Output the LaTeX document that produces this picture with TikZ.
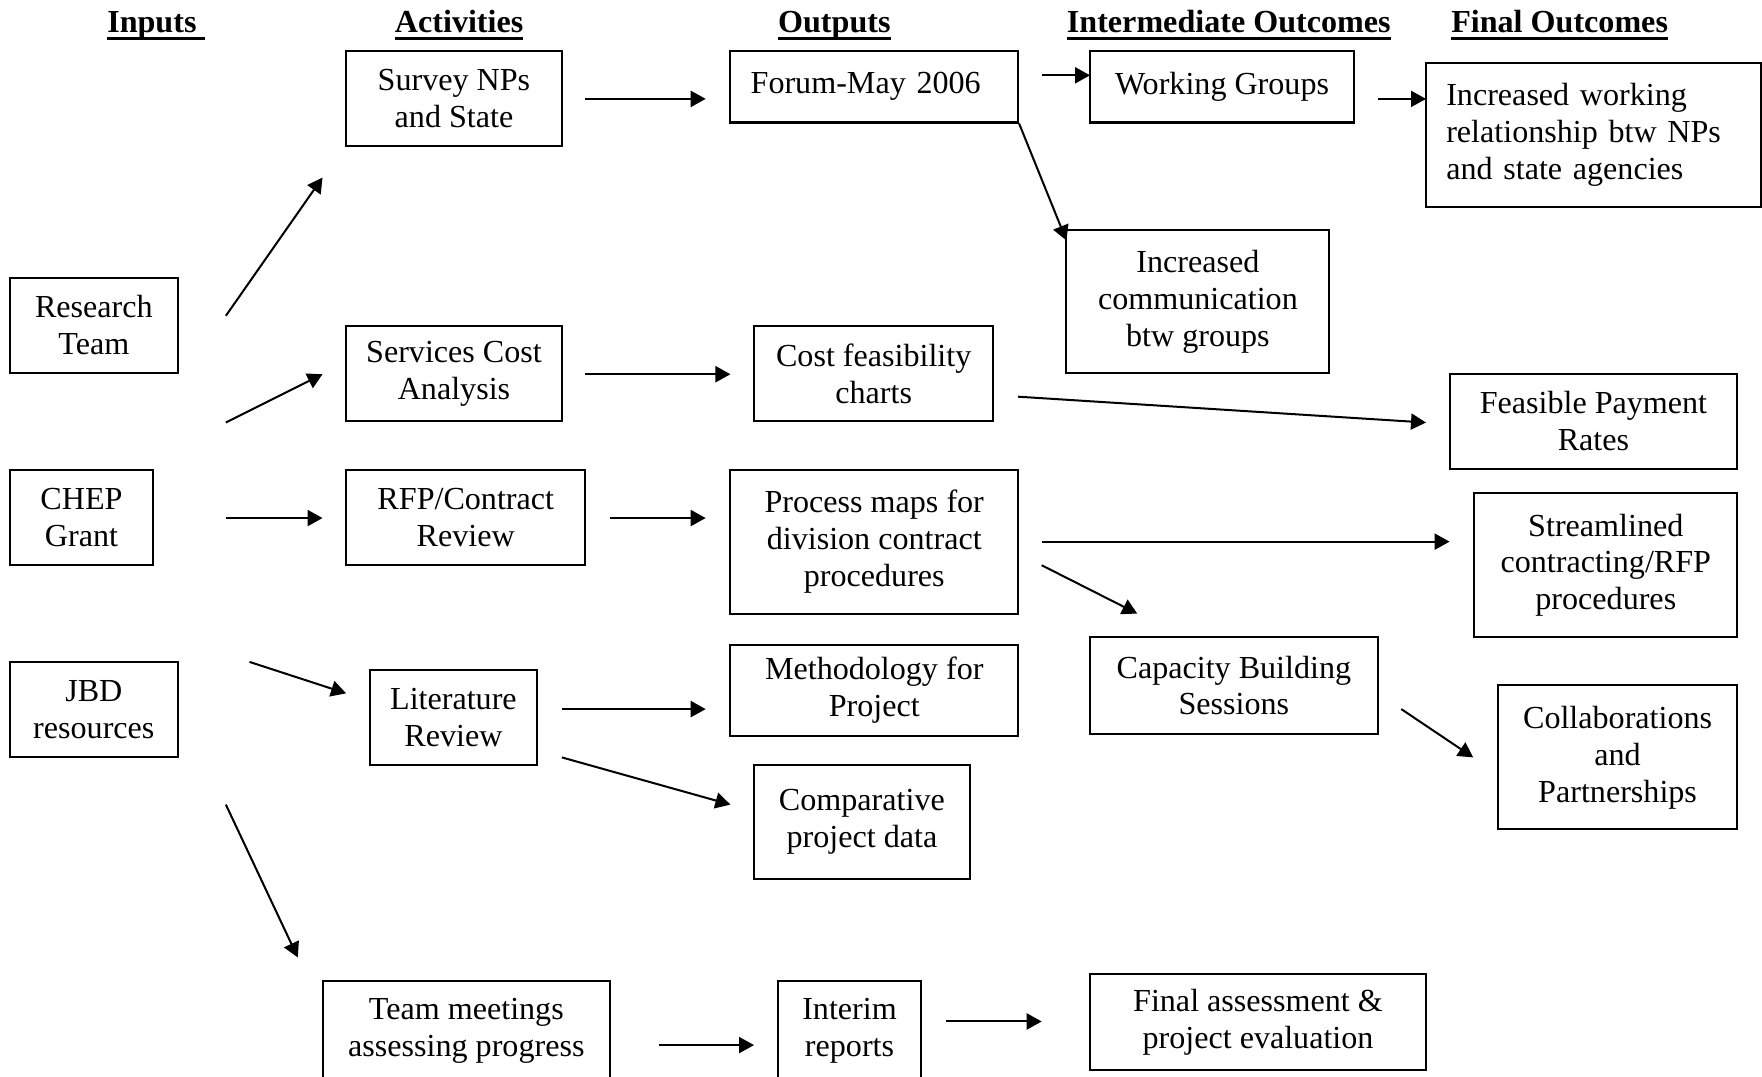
\documentclass[tikz,border=0pt]{standalone}
\usepackage{fontspec}
\setmainfont{Liberation Serif}
\usetikzlibrary{arrows.meta}
\tikzset{
 box/.style={draw, line width=0.75pt, inner sep=1pt, align=center, font=\fontsize{12}{13.8}\selectfont},
 arr/.style={-{Triangle[length=5.6pt,width=6pt]}, line width=0.75pt},
 hdr/.style={anchor=base west, inner sep=0pt, font=\fontsize{12}{13.8}\selectfont\bfseries},
}
\newcommand\ulhdr[1]{\setbox0\hbox{#1}\rlap{\rule[-2.6pt]{\wd0}{0.9pt}}\box0}
\newcommand\mkbox[7][]{\node[box, minimum width={(#5-#3)*0.42pt}, minimum height={(#6-#4)*0.42pt}, #1] (#2) at ({(#3+#5)/2},{(#4+#6)/2}) {#7};}
\begin{document}
\begin{tikzpicture}[x=0.42pt, y=-0.42pt]
\useasboundingbox (0,0) rectangle (1568,958);
% headers
\node[hdr] (h1) at (95,29) {\ulhdr{Inputs\ }};
\node[hdr] (h2) at (351,29) {\ulhdr{Activities}};
\node[hdr] (h3) at (692,29) {\ulhdr{Outputs}};
\node[hdr] (h4) at (949,29) {\ulhdr{Intermediate Outcomes}};
\node[hdr] (h5) at (1291,29) {\ulhdr{Final Outcomes}};
% inputs
\mkbox{rt}{9}{247}{158}{332}{Research\\Team}
\mkbox{chep}{9}{418}{136}{503}{CHEP\\Grant}
\mkbox{jbd}{9}{589}{158}{674}{JBD\\resources}
% activities
\mkbox{survey}{308}{45}{500}{130}{Survey NPs\\and State}
\mkbox{services}{308}{290}{500}{375}{Services Cost\\Analysis}
\mkbox{rfp}{308}{418}{521}{503}{RFP/Contract\\Review}
\mkbox{lit}{329}{596}{478}{681}{Literature\\Review}
\mkbox{team}{287}{873}{543}{962}{Team meetings\\assessing progress}
% outputs
\mkbox[inner xsep=7.56pt, align=left, text width=92.4pt]{forum}{650}{45}{906}{109}{Forum-May 2006}
\mkbox{cost}{671}{290}{884}{375}{Cost feasibility\\charts}
\mkbox{process}{650}{418}{906}{546}{Process maps for\\division contract\\procedures}
\mkbox{method}{650}{574}{906}{655}{Methodology for\\Project}
\mkbox{comp}{671}{681}{863}{782}{Comparative\\project data}
\mkbox{interim}{692}{873}{820}{962}{Interim\\reports}
% intermediate
\mkbox{working}{970}{45}{1205}{109}{Working Groups}
\mkbox{inccomm}{949}{205}{1183}{332}{Increased\\communication\\btw groups}
\mkbox{capacity}{970}{567}{1226}{653}{Capacity Building\\Sessions}
\mkbox{final}{970}{867}{1269}{952}{Final assessment \&\\project evaluation}
% final
\mkbox[inner xsep=7.56pt, align=left, text width=110pt]{incwork}{1269}{56}{1567}{184}{Increased working\\relationship btw NPs\\and state agencies}
\mkbox{feasible}{1290}{333}{1546}{417}{Feasible Payment\\Rates}
\mkbox{stream}{1312}{439}{1546}{567}{Streamlined\\contracting/RFP\\procedures}
\mkbox{collab}{1333}{610}{1546}{738}{Collaborations\\and\\Partnerships}
% arrow end points
\coordinate (a1s) at (201,281);  \coordinate (a1e) at (287,158);
\coordinate (a2s) at (201,376);  \coordinate (a2e) at (287,333);
\coordinate (a3s) at (201,461);  \coordinate (a3e) at (287,461);
\coordinate (a4s) at (222,589);  \coordinate (a4e) at (308,617);
\coordinate (a5s) at (201,716);  \coordinate (a5e) at (265,852);
\coordinate (a6s) at (521,88);   \coordinate (a6e) at (628,88);
\coordinate (a7s) at (521,333);  \coordinate (a7e) at (650,333);
\coordinate (a8s) at (543,461);  \coordinate (a8e) at (628,461);
\coordinate (a9s) at (500,631);  \coordinate (a9e) at (628,631);
\coordinate (a10s) at (500,674); \coordinate (a10e) at (650,716);
\coordinate (a11s) at (586,930); \coordinate (a11e) at (671,930);
\coordinate (a12s) at (842,909); \coordinate (a12e) at (927,909);
\coordinate (a13s) at (927,67);  \coordinate (a13e) at (970,67);
\coordinate (a14e) at (949,214);
\coordinate (a15s) at (1226,88); \coordinate (a15e) at (1269,88);
\coordinate (a16s) at (906,353); \coordinate (a16e) at (1269,376);
\coordinate (a17s) at (927,482); \coordinate (a17e) at (1290,482);
\coordinate (a18s) at (927,503); \coordinate (a18e) at (1012,546);
\coordinate (a19s) at (1247,631); \coordinate (a19e) at (1311,674);
% arrows
\draw[arr] (a1s) -- (a1e);
\draw[arr] (a2s) -- (a2e);
\draw[arr] (a3s) -- (a3e);
\draw[arr] (a4s) -- (a4e);
\draw[arr] (a5s) -- (a5e);
\draw[arr] (a6s) -- (a6e);
\draw[arr] (a7s) -- (a7e);
\draw[arr] (a8s) -- (a8e);
\draw[arr] (a9s) -- (a9e);
\draw[arr] (a10s) -- (a10e);
\draw[arr] (a11s) -- (a11e);
\draw[arr] (a12s) -- (a12e);
\draw[arr] (a13s) -- (a13e);
\draw[arr] (forum.south east) -- (a14e);
\draw[arr] (a15s) -- (a15e);
\draw[arr] (a16s) -- (a16e);
\draw[arr] (a17s) -- (a17e);
\draw[arr] (a18s) -- (a18e);
\draw[arr] (a19s) -- (a19e);
\end{tikzpicture}
\end{document}
